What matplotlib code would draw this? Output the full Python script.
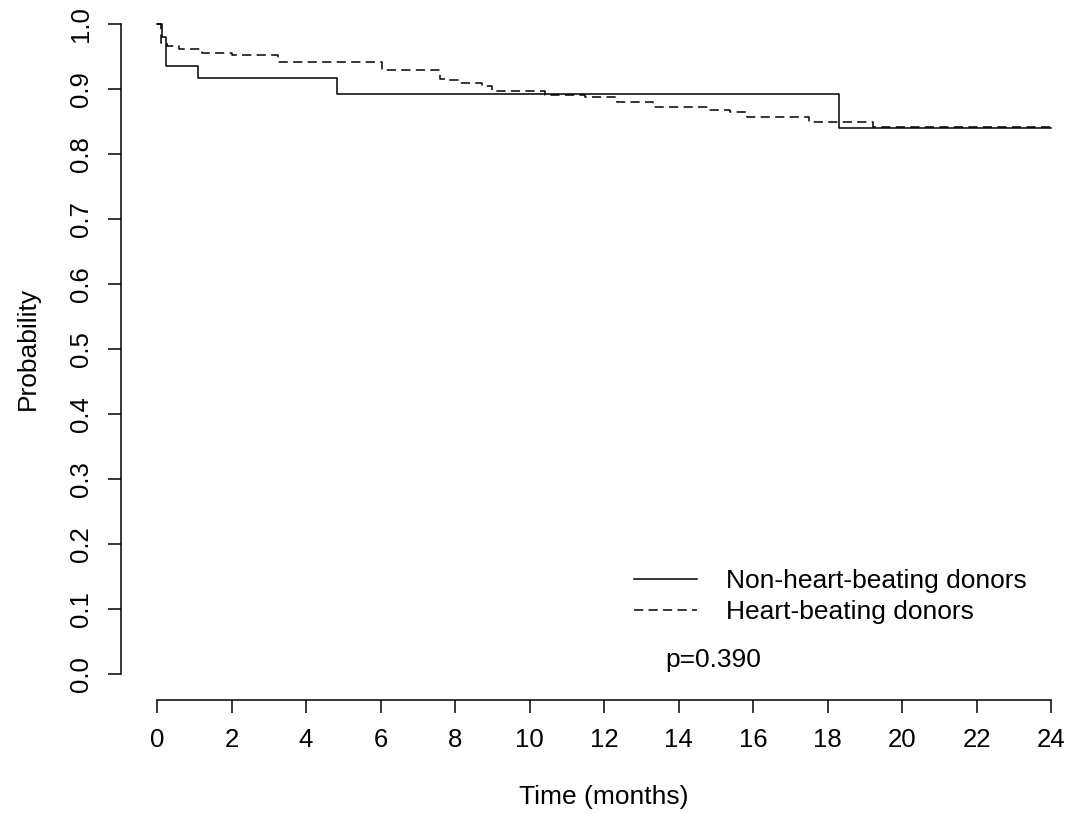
import numpy as np
import matplotlib
matplotlib.use("Agg")
import matplotlib.pyplot as plt

plt.rcParams['font.family'] = ['Liberation Sans', 'DejaVu Sans']

# step survival curves (time in months, probability)
nhb_time = [0, 0.13, 0.24, 1.09, 4.84, 18.31, 24]
nhb_prob = [1.0, 0.980, 0.936, 0.917, 0.892, 0.840, 0.840]

hb_time = [0, 0.10, 0.26, 0.60, 1.20, 2.00, 3.26, 6.03, 7.60, 7.73, 8.13, 8.72,
           8.98, 10.42, 11.49, 12.34, 13.32, 14.80, 15.38, 15.83, 17.49, 19.21, 24]
hb_prob = [1.0, 0.971, 0.966, 0.961, 0.956, 0.952, 0.9415, 0.930, 0.916, 0.914, 0.909, 0.905,
           0.897, 0.891, 0.887, 0.880, 0.873, 0.868, 0.864, 0.857, 0.849, 0.842, 0.842]

labels = ['Non-heart-beating donors', 'Heart-beating donors']
p_text = 'p=0.390'
x_ticks = np.arange(0, 25, 2)
y_ticks = np.round(np.arange(0, 1.01, 0.1), 1)

W, H = 1071, 813
fig = plt.figure(figsize=(W / 100, H / 100), dpi=100)
# plot region (R style, 4% padding), partly outside the cropped image
x0, x24 = 157.0, 1051.0
ppm = (x24 - x0) / 24
y1, y0 = 24.0, 674.0
ppu = y0 - y1
left = x0 - 0.96 * ppm
right = x24 + 0.96 * ppm
bottom = y0 + 0.04 * ppu
top = y1 - 0.04 * ppu
ax = fig.add_axes([left / W, 1 - bottom / H, (right - left) / W, (bottom - top) / H])
ax.set_xlim(-0.96, 24.96)
ax.set_ylim(-0.04, 1.04)

ax.step(nhb_time, nhb_prob, where='post', color='black', lw=1.1, label=labels[0])
ax.step(hb_time, hb_prob, where='post', color='black', lw=1.1,
        dashes=(6, 3.5), label=labels[1])

for s in ['top', 'right']:
    ax.spines[s].set_visible(False)
ax.spines['left'].set_bounds(0, 1)
ax.spines['bottom'].set_bounds(0, 24)
ax.spines['left'].set_linewidth(1.1)
ax.spines['bottom'].set_linewidth(1.1)

fs = 19
ax.set_xticks(x_ticks)
ax.set_yticks(y_ticks)
ax.set_yticklabels([f'{v:.1f}' for v in y_ticks], rotation=90, va='center')
ax.tick_params(axis='both', length=9.5, width=1.1, labelsize=18.5)
ax.tick_params(axis='x', pad=11)
ax.tick_params(axis='y', pad=11)

fig.text(604 / W, 1 - 797 / H, 'Time (months)', ha='center', va='center', fontsize=fs)
fig.text(28 / W, 1 - 348 / H, 'Probability', ha='center', va='center',
         rotation=90, fontsize=fs)

ax.legend(loc='upper left', bbox_to_anchor=(634 / W, 1 - 569 / H),
          bbox_transform=fig.transFigure, frameon=False, fontsize=fs,
          handlelength=2.4, handletextpad=1.1, labelspacing=0.27,
          borderpad=0, borderaxespad=0)
fig.text(665 / W, 1 - 660 / H, p_text, ha='left', va='center', fontsize=fs)

fig.savefig('out.png', dpi=100)
